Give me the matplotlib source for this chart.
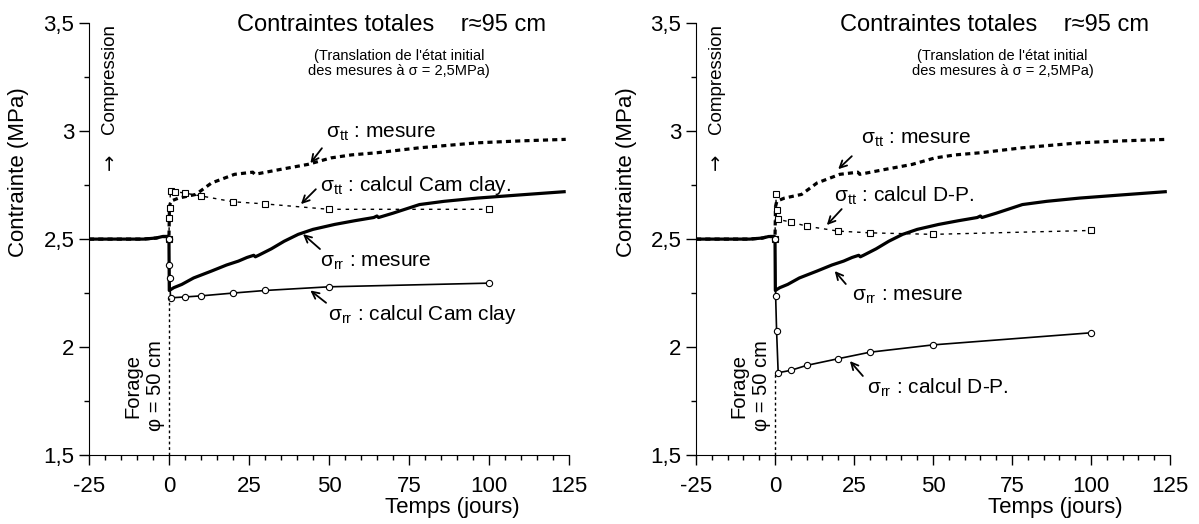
import matplotlib
matplotlib.use("Agg")
import matplotlib.pyplot as plt
from matplotlib.ticker import MultipleLocator, FuncFormatter

plt.rcParams['font.family'] = ['Liberation Sans', 'DejaVu Sans']
plt.rcParams['mathtext.fontset'] = 'custom'
plt.rcParams['mathtext.rm'] = 'Liberation Sans'
plt.rcParams['mathtext.it'] = 'Liberation Sans:italic'

# mesures (identiques sur les deux graphes), temps en jours
rr_mes_t = [-25, -15, -8, -4, -2, -0.3, 0, 0.1, 1.5, 4, 7.7, 13.3, 18, 21.7, 24.4, 26.5,
            27, 28, 32, 36, 40.4, 45, 51.8, 58, 64, 65, 65.5, 70, 78.3, 86, 96.4, 110, 124]
rr_mes = [2.50, 2.50, 2.50, 2.505, 2.512, 2.512, 2.505, 2.262, 2.275, 2.29, 2.32, 2.352, 2.38,
          2.398, 2.415, 2.425, 2.418, 2.425, 2.455, 2.49, 2.522, 2.545, 2.568, 2.585, 2.60, 2.607,
          2.600, 2.62, 2.66, 2.675, 2.69, 2.705, 2.72]

tt_mes_t = [-25, -15, -8, -4, -2, -0.3, 0, 0.15, 0.6, 3, 8.4, 13.3, 20.5, 26.2, 26.8, 34.9,
            43.4, 50.6, 57, 65, 78.3, 96.4, 110, 124]
tt_mes = [2.50, 2.50, 2.50, 2.505, 2.512, 2.512, 2.505, 2.65, 2.676, 2.69, 2.707, 2.76, 2.80,
          2.81, 2.80, 2.823, 2.846, 2.876, 2.89, 2.90, 2.923, 2.946, 2.955, 2.962]

# calcul Cam clay
cc_tt_t = [0, 0.1, 0.2, 0.5, 2, 5, 10, 20, 30, 50, 100]
cc_tt = [2.5, 2.60, 2.645, 2.725, 2.72, 2.713, 2.70, 2.673, 2.663, 2.638, 2.638]
cc_rr_t = [0, 0.1, 0.2, 0.5, 5, 10, 20, 30, 50, 100]
cc_rr = [2.5, 2.378, 2.32, 2.228, 2.232, 2.237, 2.25, 2.262, 2.279, 2.296]

# calcul D-P
dp_tt_t = [0, 0.2, 0.5, 1.0, 5, 10, 20, 30, 50, 100]
dp_tt = [2.5, 2.707, 2.637, 2.591, 2.579, 2.56, 2.537, 2.529, 2.522, 2.54]
dp_rr_t = [0, 0.2, 0.5, 1.0, 5, 10, 20, 30, 50, 100]
dp_rr = [2.5, 2.236, 2.074, 1.881, 1.892, 1.915, 1.946, 1.976, 2.01, 2.066]

x_ticks = [-25, 0, 25, 50, 75, 100, 125]
y_ticks = [1.5, 2, 2.5, 3, 3.5]

fig = plt.figure(figsize=(11.99, 5.24), dpi=100)
ax1 = fig.add_axes([0.0742, 0.1317, 0.4003, 0.824])
ax2 = fig.add_axes([0.5805, 0.1317, 0.3953, 0.824])


def label(ax, txt, pos, tail, tip):
    ax.text(pos[0], pos[1], txt, fontsize=15, ha='left', va='center')
    ax.annotate('', xy=tip, xytext=tail,
                arrowprops=dict(arrowstyle='->,head_length=0.5,head_width=0.25',
                                color='black', lw=1.3, shrinkA=0, shrinkB=0))


def panel(ax, tt_t, tt, rr_t, rr, labels):
    # mesures
    ax.plot(rr_mes_t, rr_mes, color='black', lw=2.3, solid_capstyle='butt')
    ax.plot(tt_mes_t, tt_mes, color='black', lw=2.3, linestyle=(0, (1.6, 1.3)))
    # calculs
    ax.plot(tt_t, tt, color='black', lw=1.0, linestyle=(0, (2.5, 3.5)),
            marker='s', ms=4.5, mfc='white', mec='black', mew=0.8)
    ax.plot(rr_t, rr, color='black', lw=1.2,
            marker='o', ms=4.5, mfc='white', mec='black', mew=0.8)
    # forage
    ax.vlines(0, 1.5, min(rr), colors='black', lw=1.0, linestyles=(0, (2, 2)))

    ax.set_xlim(-25, 125)
    ax.set_ylim(1.5, 3.5)
    ax.spines['top'].set_visible(False)
    ax.spines['right'].set_visible(False)
    ax.xaxis.set_minor_locator(MultipleLocator(5))
    ax.yaxis.set_minor_locator(MultipleLocator(0.25))
    ax.set_xticks(x_ticks)
    ax.set_yticks(y_ticks)
    ax.xaxis.set_major_formatter(FuncFormatter(lambda v, p: str(int(v))))
    ax.yaxis.set_major_formatter(FuncFormatter(lambda v, p: ('%g' % v).replace('.', ',')))
    ax.tick_params(which='major', direction='out', length=7, width=1, labelsize=16)
    ax.tick_params(which='minor', direction='out', length=3.5, width=1)
    ax.tick_params(axis='x', pad=8)

    ax.text(69.5, 3.49, 'Contraintes totales    r\u224895 cm', fontsize=17,
            ha='center', va='center')
    ax.text(72, 3.313, "(Translation de l'\u00e9tat initial\ndes mesures \u00e0 \u03c3 = 2,5MPa)",
            fontsize=10.5, ha='center', va='center', linespacing=1.15)
    ax.text(-18.5, 3.24, 'Compression', fontsize=13.5, rotation=90,
            ha='center', va='center')
    ax.text(-18.5, 2.86, '\u2192', fontsize=14, rotation=90, family='DejaVu Sans',
            ha='center', va='center')
    ax.text(-47, 2.81, 'Contrainte (MPa)', fontsize=16, rotation=90,
            ha='center', va='center', clip_on=False)
    ax.text(-7.8, 1.82, 'Forage\n\u03c6 = 50 cm', fontsize=14.5, rotation=90,
            ha='center', va='center', linespacing=1.2)
    ax.text(88.7, 1.255, 'Temps (jours)', fontsize=16, ha='center', va='center',
            clip_on=False)

    for txt, pos, tail, tip in labels:
        label(ax, txt, pos, tail, tip)


panel(ax1, cc_tt_t, cc_tt, cc_rr_t, cc_rr, [
    (r'$\mathrm{\sigma_{tt}}$ : mesure', (49.1, 2.99), (47.8, 2.921), (44.2, 2.852)),
    (r'$\mathrm{\sigma_{tt}}$ : calcul Cam clay.', (47.2, 2.75), (45.9, 2.731), (41.25, 2.662)),
    (r'$\mathrm{\sigma_{rr}}$ : mesure', (47.2, 2.39), (47.2, 2.454), (41.9, 2.523)),
    (r'$\mathrm{\sigma_{rr}}$ : calcul Cam clay', (49.7, 2.15), (49.1, 2.205), (44.2, 2.262)),
])

panel(ax2, dp_tt_t, dp_tt, dp_rr_t, dp_rr, [
    (r'$\mathrm{\sigma_{tt}}$ : mesure', (27.3, 2.96), (24.3, 2.884), (20.0, 2.824)),
    (r'$\mathrm{\sigma_{tt}}$ : calcul D-P.', (18.8, 2.70), (21.1, 2.639), (16.4, 2.565)),
    (r'$\mathrm{\sigma_{rr}}$ : mesure', (24.3, 2.235), (22.4, 2.292), (18.9, 2.352)),
    (r'$\mathrm{\sigma_{rr}}$ : calcul D-P.', (29.0, 1.81), (27.8, 1.866), (23.7, 1.935)),
])

fig.savefig('out.png', dpi=100)
